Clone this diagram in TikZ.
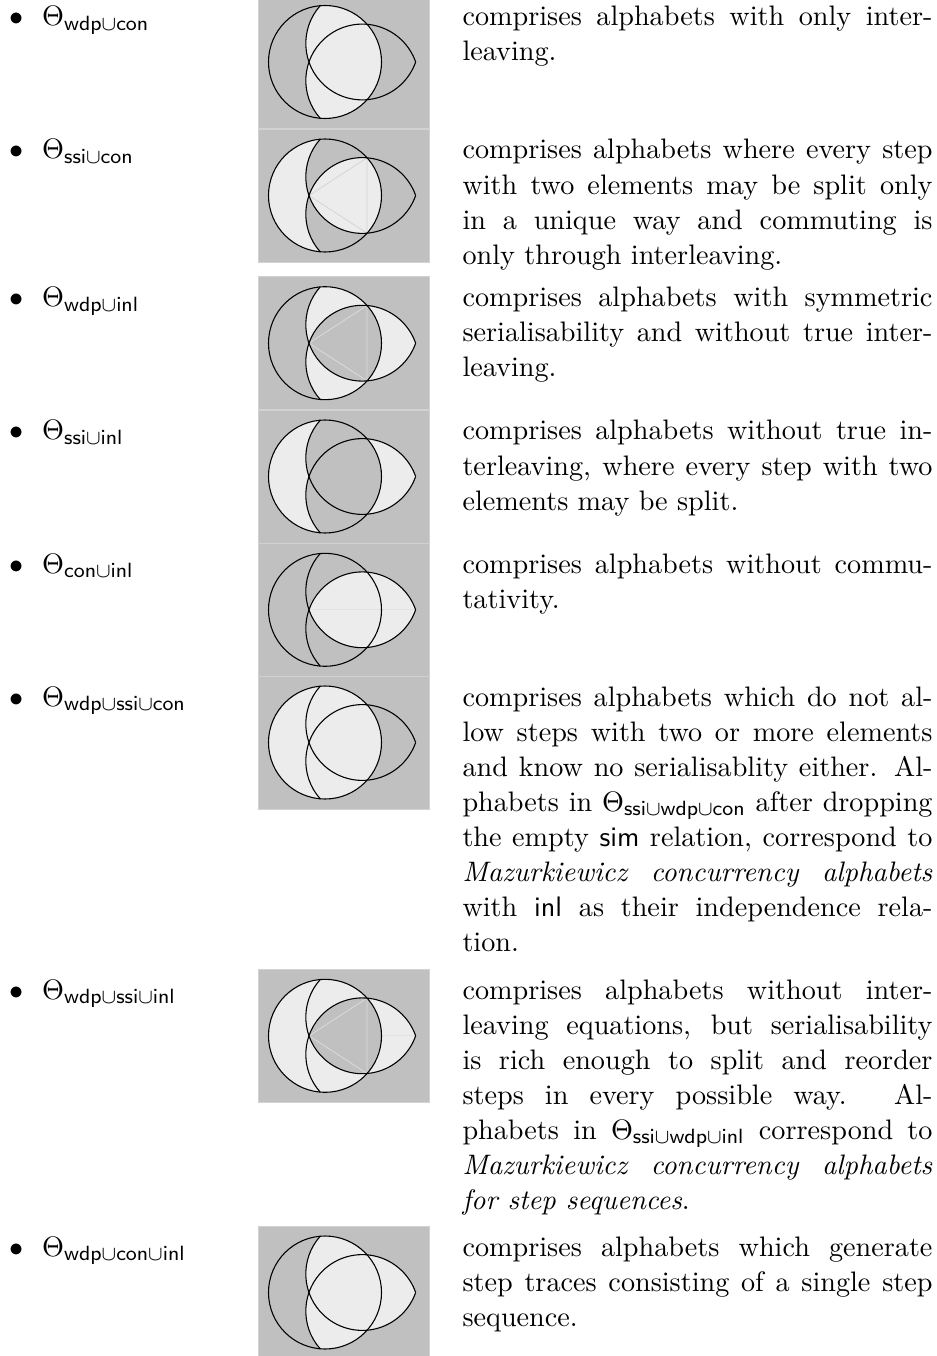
\documentclass[tikz,border=0pt]{standalone}
\usepackage{tikz}
\tolerance=10000
\hyphenpenalty=10000
\definecolor{boxgray}{RGB}{192,192,192}
\definecolor{lightfill}{RGB}{236,236,236}
\definecolor{boxedge}{RGB}{210,210,210}
\definecolor{seamA}{RGB}{212,212,212}
\definecolor{seamB}{RGB}{220,220,220}
\definecolor{seamC}{RGB}{226,226,226}
\tikzset{
  venbox/.style={fill=boxgray, draw=boxedge, line width=0.3pt, minimum width=66.43pt, minimum height=51.67pt, inner sep=0pt},
  vline/.style={draw=black, line width=0.42pt},
  seam/.style={line width=0.3pt},
  bul/.style={anchor=base, inner sep=0pt, font=\fontsize{10.95}{13.6}\selectfont},
  thl/.style={anchor=base west, inner sep=0pt, font=\fontsize{10.95}{13.6}\selectfont},
  para/.style={anchor=base west, inner sep=0pt, text width=182.6pt, align=justify,
    font=\fontsize{10.95}{13.6}\selectfont}
}
% #1 centre y (px, downward), #2..#6 fills of crescent, upper petal, lower petal, centre, outer lens, #7 seams
\newcommand\venndiag[7]{%
  \begin{scope}[shift={(343.5,-#1)}]
    \coordinate (A) at (-18.5,0);
    \coordinate (U) at (18.8,18.6);
    \coordinate (L) at (18.8,-18.6);
    \coordinate (T1) at (-34.55,0);
    \coordinate (T2) at (72.15,0);
    \coordinate (Q1) at (23.6,37.7);
    \coordinate (Q2) at (23.6,-37.7);
    \coordinate (R) at (38,0);
    \begin{scope}\clip (L) circle (56.5); \fill[#6] (U) circle (56.5);\end{scope}
    \fill[#2] (A) circle (56.5);
    \begin{scope}\clip (A) circle (56.5); \fill[#3] (U) circle (56.5);\end{scope}
    \begin{scope}\clip (A) circle (56.5); \fill[#4] (L) circle (56.5);\end{scope}
    \begin{scope}\clip (A) circle (56.5); \clip (U) circle (56.5); \fill[#5] (L) circle (56.5);\end{scope}
    #7
    \draw[vline] (A) circle (56.5);
    \draw[vline] (U) ++(138.15:56.5) arc[start angle=138.15, end angle=340.78, radius=56.5];
    \draw[vline] (L) ++(-138.15:56.5) arc[start angle=-138.15, end angle=-340.78, radius=56.5];
  \end{scope}}
\newcommand\trianglesm[1]{\draw[seam,#1] (T1) -- (Q1) -- (Q2) -- cycle;}

\begin{document}
\begin{tikzpicture}[x=0.3885pt,y=0.3885pt]
\useasboundingbox (0,0) rectangle (936,-1356);

% ---------- item 1
\node[bul] (b1) at (16.7,-25.5) {$\bullet$};
\node[thl] (l1) at (41.7,-25.5) {$\Theta_{\mathsf{wdp}\cup\mathsf{con}}$};
\node[venbox] (v1) at (343.5,-62) {};
\venndiag{62}{boxgray}{lightfill}{lightfill}{lightfill}{boxgray}{}
\node[para] (p1) at (462,-25.5) {comprises alphabets with only inter-\linebreak leaving.};

% ---------- item 2
\node[bul] (b2) at (16.7,-159) {$\bullet$};
\node[thl] (l2) at (41.7,-159) {$\Theta_{\mathsf{ssi}\cup\mathsf{con}}$};
\node[venbox] (v2) at (343.5,-195.5) {};
\venndiag{195.5}{lightfill}{boxgray}{boxgray}{lightfill}{boxgray}{\trianglesm{seamA}}
\node[para] (p2) at (462,-159) {comprises alphabets where every step\linebreak with two elements may be split only\linebreak in a unique way and commuting is\linebreak only through interleaving.};

% ---------- item 3
\node[bul] (b3) at (16.7,-306.7) {$\bullet$};
\node[thl] (l3) at (41.7,-306.7) {$\Theta_{\mathsf{wdp}\cup\mathsf{inl}}$};
\node[venbox] (v3) at (343.5,-343.2) {};
\venndiag{343.2}{boxgray}{lightfill}{lightfill}{boxgray}{lightfill}{\trianglesm{seamB}}
\node[para] (p3) at (462,-306.7) {comprises alphabets with symmetric\linebreak serialisability and without true inter-\linebreak leaving.};

% ---------- item 4
\node[bul] (b4) at (16.7,-440) {$\bullet$};
\node[thl] (l4) at (41.7,-440) {$\Theta_{\mathsf{ssi}\cup\mathsf{inl}}$};
\node[venbox] (v4) at (343.5,-476.5) {};
\venndiag{476.5}{lightfill}{boxgray}{boxgray}{boxgray}{lightfill}{}
\node[para] (p4) at (462,-440) {comprises alphabets without true in-\linebreak terleaving, where every step with two\linebreak elements may be split.};

% ---------- item 5
\node[bul] (b5) at (16.7,-573.3) {$\bullet$};
\node[thl] (l5) at (41.7,-573.3) {$\Theta_{\mathsf{con}\cup\mathsf{inl}}$};
\node[venbox] (v5) at (343.5,-609.8) {};
\venndiag{609.8}{boxgray}{boxgray}{boxgray}{lightfill}{lightfill}{\draw[seam,seamC] (T1) -- (T2);}
\node[para] (p5) at (462,-573.3) {comprises alphabets without commu-\linebreak tativity.};

% ---------- item 6
\node[bul] (b6) at (16.7,-706) {$\bullet$};
\node[thl] (l6) at (41.7,-706) {$\Theta_{\mathsf{wdp}\cup\mathsf{ssi}\cup\mathsf{con}}$};
\node[venbox] (v6) at (343.5,-742.5) {};
\venndiag{742.5}{lightfill}{lightfill}{lightfill}{lightfill}{boxgray}{}
\node[para] (p6) at (462,-706) {comprises alphabets which do not al-\linebreak low steps with two or more elements\linebreak and know no serialisablity either. Al-\linebreak phabets in $\Theta_{\mathsf{ssi}\cup\mathsf{wdp}\cup\mathsf{con}}$ after dropping\linebreak the empty \textsf{sim} relation, correspond to\linebreak \emph{Mazurkiewicz concurrency alphabets}\linebreak with \textsf{inl} as their independence rela-\linebreak tion.};

% ---------- item 7
\node[bul] (b7) at (16.7,-999.3) {$\bullet$};
\node[thl] (l7) at (41.7,-999.3) {$\Theta_{\mathsf{wdp}\cup\mathsf{ssi}\cup\mathsf{inl}}$};
\node[venbox] (v7) at (343.5,-1035.8) {};
\venndiag{1035.8}{lightfill}{lightfill}{lightfill}{boxgray}{lightfill}{\trianglesm{seamB}\draw[seam,seamC] (R) -- (T2);}
\node[para] (p7) at (462,-999.3) {comprises alphabets without inter-\linebreak leaving equations, but serialisability\linebreak is rich enough to split and reorder\linebreak steps in every possible way. Al-\linebreak phabets in $\Theta_{\mathsf{ssi}\cup\mathsf{wdp}\cup\mathsf{inl}}$ correspond to\linebreak \emph{Mazurkiewicz concurrency alphabets}\linebreak \emph{for step sequences}.};

% ---------- item 8
\node[bul] (b8) at (16.7,-1256) {$\bullet$};
\node[thl] (l8) at (41.7,-1256) {$\Theta_{\mathsf{wdp}\cup\mathsf{con}\cup\mathsf{inl}}$};
\node[venbox] (v8) at (343.5,-1292.5) {};
\venndiag{1292.5}{boxgray}{lightfill}{lightfill}{lightfill}{lightfill}{}
\node[para] (p8) at (462,-1256) {comprises alphabets which generate\linebreak step traces consisting of a single step\linebreak sequence.};
\end{tikzpicture}
\end{document}
